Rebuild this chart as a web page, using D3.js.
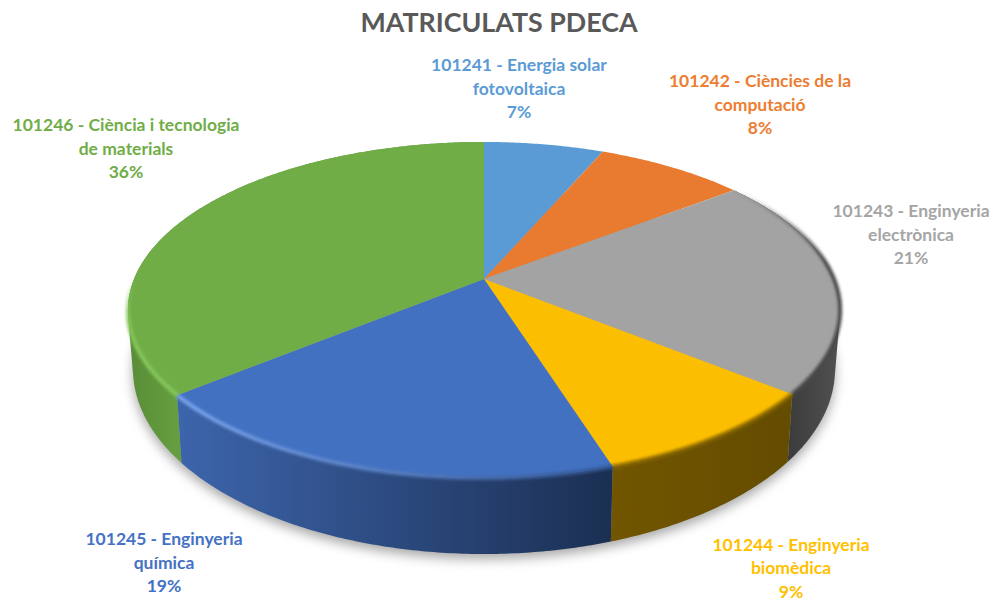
<!DOCTYPE html>
<html>
<head>
<meta charset="UTF-8">
<title>Matriculats PDECA</title>
<style>
body {
    margin: 0;
    background: #fff;
}

text {
    font-family: Lato, "Open Sans", sans-serif;
    font-weight: 700;
    text-anchor: middle;
}

.title {
    font-size: 26.8px;
    fill: #595959;
}

.label {
    font-size: 17.5px;
}
</style>
</head>
<body>
<div class="chart"></div>
<script src="https://cdn.jsdelivr.net/npm/d3@7/dist/d3.min.js"></script>
<script>

const title = 'MATRICULATS PDECA';

// percentages, printed rounded
const values = [6.5, 8.1, 21.2, 9.3, 19.0, 35.9];
const labelLines = [
    ['101241 - Energia solar', 'fotovoltaica'],
    ['101242 - Ciències de la', 'computació'],
    ['101243 - Enginyeria', 'electrònica'],
    ['101244 - Enginyeria', 'biomèdica'],
    ['101245 - Enginyeria', 'química'],
    ['101246 - Ciència i tecnologia', 'de materials']
];

const faceColors = ['#5b9bd5', '#e87b2f', '#a3a3a3', '#fcbe00', '#4271c2', '#70ad47'];
const labelColors = ['#5b9bd5', '#ed7d31', '#a5a5a5', '#ffc000', '#4472c4', '#70ad47'];
// left / right colour of the outer wall, null = wall is hidden
const wallColors = [null, null, ['#3d3d3d', '#515151'], ['#715500', '#644c00'], ['#3d65ac', '#1b2f52'], ['#5a8c38', '#659e3f']];
const rimColors = [null, null, ['#4a4a4a', '#6a6a6a'], ['#8a6800', '#8a6800'], ['#7aa5ee', '#2f528f'], ['#84c85a', '#84c85a']];
// how far above the apex a rim still runs; these fade out towards the back of the disc
const rimReach = [null, null, 90, 0, 0, 0];
const rimFades = [false, false, true, false, false, true];
// centre x and first line y of each label
const labelAnchors = [[519, 71], [760, 87], [911, 217], [791, 550.5], [164, 545], [126, 131]];

let width = 994, height = 601;

let svg = d3.select('.chart').append('svg')
    .attr('width', width)
    .attr('height', height);

// the disc is seen in perspective: the apex sits above the middle of the outline
const cx = 484, p = 0.1845;
const topRing = {a: 350, b: 162.3, cy: 279};
const bottomRing = {a: 345, b: 178.6, cy: 335};

function project(angle, ring) {
    let u = Math.sin(angle), v = -Math.cos(angle), w = 1 - p * v;
    return [cx + ring.a * u / w, ring.cy + ring.b * v / w];
}

function arcPoints(a0, a1, ring) {
    let n = Math.max(2, Math.ceil((a1 - a0) / 0.01));
    return d3.range(n + 1).map(i => project(a0 + (a1 - a0) * i / n, ring));
}

let line = d3.line();

let pie = d3.pie().sort(null)(values);

let defs = svg.append('defs');

defs.append('filter').attr('id', 'soft')
    .attr('x', '-20%').attr('y', '-20%').attr('width', '140%').attr('height', '140%')
    .append('feGaussianBlur').attr('stdDeviation', 6);

defs.append('filter').attr('id', 'rimBlur')
    .attr('filterUnits', 'userSpaceOnUse')
    .attr('x', 0).attr('y', 0).attr('width', width).attr('height', height)
    .append('feGaussianBlur').attr('stdDeviation', 1.6);

function addGradient(id, colors, pts) {
    let xs = d3.extent(pts, d => d[0]);
    let lg = defs.append('linearGradient')
        .attr('id', id)
        .attr('gradientUnits', 'userSpaceOnUse')
        .attr('x1', xs[0]).attr('y1', 0)
        .attr('x2', xs[1]).attr('y2', 0);
    lg.append('stop').attr('offset', '0%').style('stop-color', colors[0]);
    lg.append('stop').attr('offset', '100%').style('stop-color', colors[1]);
}

function addFadeGradient(id, color, pts) {
    let ys = d3.extent(pts, d => d[1]);
    let lg = defs.append('linearGradient')
        .attr('id', id)
        .attr('gradientUnits', 'userSpaceOnUse')
        .attr('x1', 0).attr('y1', ys[0])
        .attr('x2', 0).attr('y2', ys[1]);
    lg.append('stop').attr('offset', '0%').style('stop-color', color).style('stop-opacity', 0);
    lg.append('stop').attr('offset', '35%').style('stop-color', color).style('stop-opacity', 1);
}

// soft shadow under the disc
svg.append('path')
    .attr('d', line(arcPoints(0, 2 * Math.PI, bottomRing)) + 'Z')
    .attr('transform', 'translate(0, 5)')
    .attr('fill', '#000')
    .attr('fill-opacity', 0.35)
    .attr('filter', 'url(#soft)');

// outer walls as strips of quads so the silhouette stays closed at the sides
[5, 2, 3, 4].forEach(i => {
    let d = pie[i];
    let upper = arcPoints(d.startAngle, d.endAngle, topRing);
    let lower = arcPoints(d.startAngle, d.endAngle, bottomRing);
    addGradient('wall' + i, wallColors[i], upper.filter(q => q[1] > topRing.cy));
    let path = '';
    for (let k = 0; k < upper.length - 1; k++) {
        let quad = [upper[k], upper[k + 1], lower[k + 1], lower[k]];
        if (d3.polygonArea(quad) < 0) quad.reverse();
        path += line(quad) + 'Z';
    }
    svg.append('path')
        .attr('d', path)
        .attr('fill', 'url(#wall' + i + ')');
});

// top faces
pie.forEach((d, i) => {
    let apex = project(0, {a: 0, b: 0, cy: topRing.cy});
    svg.append('path')
        .attr('d', line([apex].concat(arcPoints(d.startAngle, d.endAngle, topRing))) + 'Z')
        .attr('fill', faceColors[i]);
});

// bevel along the front edge
pie.forEach((d, i) => {
    if (!rimColors[i]) return;
    let pts = arcPoints(d.startAngle, d.endAngle, topRing).filter(q => q[1] > topRing.cy - rimReach[i]);
    if (rimFades[i]) addFadeGradient('rim' + i, rimColors[i][0], pts);
    else addGradient('rim' + i, rimColors[i], pts);
    svg.append('path')
        .attr('d', line(pts))
        .attr('fill', 'none')
        .attr('stroke', 'url(#rim' + i + ')')
        .attr('stroke-width', 4)
        .attr('filter', 'url(#rimBlur)');
});

svg.append('text')
    .attr('class', 'title')
    .attr('x', 499)
    .attr('y', 32)
    .text(title);

let labels = svg.selectAll('.label')
    .data(pie)
    .enter().append('text')
    .attr('class', 'label')
    .attr('fill', (d, i) => labelColors[i])
    .attr('transform', (d, i) => 'translate(' + labelAnchors[i] + ')');

labels.selectAll('tspan')
    .data((d, i) => labelLines[i].concat(Math.round(d.data) + '%'))
    .enter().append('tspan')
    .attr('x', 0)
    .attr('y', (d, i) => i * 23.5)
    .text(d => d);

</script>
</body>
</html>
